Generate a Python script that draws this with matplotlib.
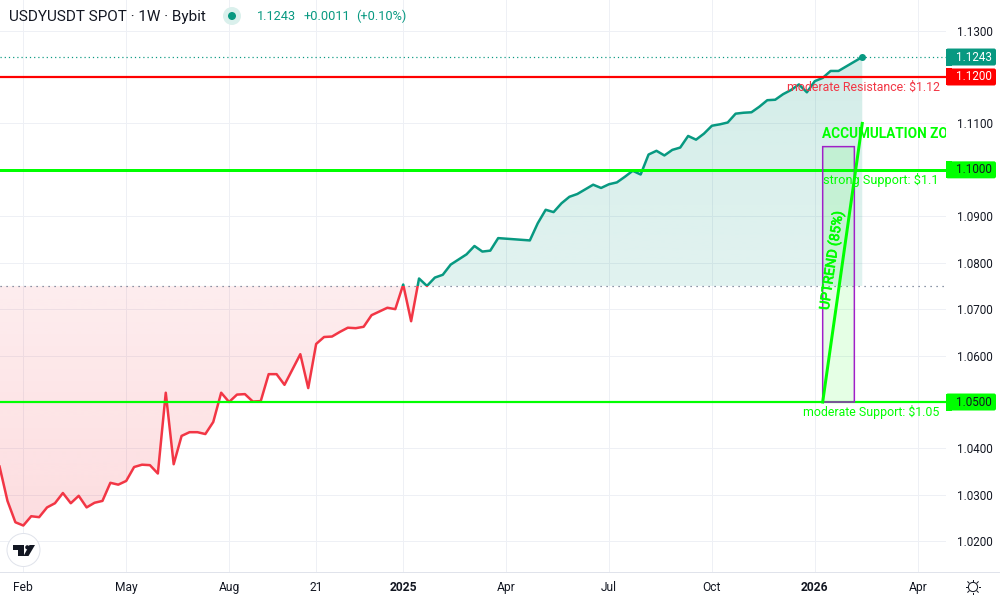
import numpy as np
import matplotlib
matplotlib.use("Agg")
import matplotlib.pyplot as plt
import matplotlib.patheffects as pe
from matplotlib.patches import Rectangle, Polygon, FancyBboxPatch, Circle
from matplotlib.lines import Line2D
from matplotlib.transforms import IdentityTransform

# ---------- data ----------
weeks = list(range(-3, 61)) + list(range(64, 107))
prices = [
    1.0361, 1.0287, 1.0241, 1.0234, 1.0254, 1.0252, 1.0273, 1.0282, 1.0304, 1.0282,
    1.0298, 1.0273, 1.0283, 1.0287, 1.0326, 1.0322, 1.0330, 1.0360, 1.0365, 1.0364,
    1.0346, 1.0520, 1.0366, 1.0427, 1.0435, 1.0435, 1.0431, 1.0457, 1.0520, 1.0500,
    1.0516, 1.0517, 1.0501, 1.0502,
    1.0560, 1.0560, 1.0537, 1.0570, 1.0603, 1.0530, 1.0625, 1.0640, 1.0641, 1.0651,
    1.0660, 1.0659, 1.0662, 1.0687, 1.0695, 1.0703, 1.0700, 1.0753, 1.0674, 1.0766,
    1.0750, 1.0768, 1.0774, 1.0796, 1.0807, 1.0818, 1.0836, 1.0824, 1.0826, 1.0853,
    1.0848, 1.0885, 1.0914, 1.0909, 1.0928, 1.0942, 1.0948, 1.0958, 1.0968, 1.0961,
    1.0969, 1.0973, 1.0985, 1.0998, 1.0990, 1.1033, 1.1041, 1.1031, 1.1043, 1.1048,
    1.1073, 1.1065, 1.1078, 1.1095, 1.1098, 1.1102, 1.1121, 1.1123, 1.1124, 1.1136,
    1.1150, 1.1151, 1.1163, 1.1172, 1.1184, 1.1167, 1.1191, 1.1198, 1.1213, 1.1213,
    1.1223, 1.1233, 1.1243,
]
baseline = 1.075
last_price = 1.1243
resistance = 1.12
support_strong = 1.10
support_moderate = 1.05
zone_weeks = (101, 105)
zone_prices = (1.05, 1.105)
trend_weeks = [101, 106]
trend_prices = [1.05, 1.11]
x_ticks = [0, 13, 26, 37, 48, 61, 74, 87, 100, 113]
x_labels = ["Feb", "May", "Aug", "21", "2025", "Apr", "Jul", "Oct", "2026", "Apr"]
y_ticks = [1.02, 1.03, 1.04, 1.05, 1.06, 1.07, 1.08, 1.09, 1.10, 1.11, 1.12, 1.13]
y_plain = [1.02, 1.03, 1.04, 1.06, 1.07, 1.08, 1.09, 1.11, 1.13]

# ---------- style ----------
FONT = "Roboto"
plt.rcParams["font.family"] = [FONT, "DejaVu Sans"]
RED = "#f23645"
TEAL = "#089981"
LIME = "#00ff00"
GRID = "#eef0f5"
INK = "#131722"
px = 72 / 100

fig = plt.figure(figsize=(10, 6), dpi=100, facecolor="white")
ax = fig.add_axes([0, 28 / 600, 946 / 1000, 572 / 600])
xlim = (-2.944, 116.58)
ylim = (1.01339, 1.13658)

w = np.array(weeks, float)
p = np.array(prices, float)

# gradient areas, clipped to the area between the series and the baseline
outline = np.column_stack([np.r_[w[0], w, w[-1]], np.r_[baseline, p, baseline]])


def gradient(colour, a_low, a_high, y0, y1):
    rgba = np.zeros((256, 1, 4))
    rgba[..., :3] = matplotlib.colors.to_rgb(colour)
    rgba[:, 0, 3] = np.linspace(a_low, a_high, 256)
    im = ax.imshow(rgba, extent=[xlim[0], xlim[1], y0, y1], origin="lower",
                   aspect="auto", zorder=1, interpolation="bilinear")
    im.set_clip_path(Polygon(outline, closed=True, transform=ax.transData))


gradient(TEAL, 0.12, 0.18, baseline, last_price)
gradient(RED, 0.17, 0.09, p.min(), baseline)

# grid
ax.set_axisbelow(True)
ax.grid(True, color=GRID, lw=1 * px, zorder=0)

# baseline and last-price dotted lines
ax.axhline(baseline, color="#5d6b85", lw=1.2 * px, ls=(0, (1, 4)), zorder=2)
ax.axhline(last_price, color=TEAL, lw=1.2 * px, ls=(0, (1, 2.5)), zorder=2)

# series: one line drawn twice, clipped at the baseline
above, = ax.plot(w, p, color=TEAL, lw=2.5 * px, zorder=3, solid_joinstyle="round")
below, = ax.plot(w, p, color=RED, lw=2.5 * px, zorder=3, solid_joinstyle="round")
above.set_clip_path(Rectangle((xlim[0], baseline), xlim[1] - xlim[0], ylim[1] - baseline,
                              transform=ax.transData))
below.set_clip_path(Rectangle((xlim[0], ylim[0]), xlim[1] - xlim[0], baseline - ylim[0],
                              transform=ax.transData))
ax.plot(w[-1], p[-1], "o", color=TEAL, ms=7 * px, mew=0, zorder=4)

# levels
ax.axhline(resistance, color="#ff0000", lw=2.2 * px, zorder=5)
ax.axhline(support_strong, color=LIME, lw=3 * px, zorder=5)
ax.axhline(support_moderate, color=LIME, lw=2.2 * px, zorder=5)

# accumulation zone + trend
ax.add_patch(Rectangle((zone_weeks[0], zone_prices[0]), zone_weeks[1] - zone_weeks[0],
                       zone_prices[1] - zone_prices[0], facecolor=LIME, alpha=0.1,
                       edgecolor="none", zorder=6))
ax.add_patch(Rectangle((zone_weeks[0], zone_prices[0]), zone_weeks[1] - zone_weeks[0],
                       zone_prices[1] - zone_prices[0], fill=False,
                       edgecolor="#a020c8", lw=1.5 * px, zorder=6.5, snap=False))
ax.plot(trend_weeks, trend_prices, color=LIME, lw=3 * px, zorder=7)

# annotations
ann = dict(va="center", zorder=8)
ax.text(115.8, 1.1178, "moderate Resistance: $1.12", color="#f23645", ha="right",
        fontsize=12.4 * px, **ann)
ax.text(101.0, 1.0978, "strong Support: $1.1", color=LIME, ha="left", fontsize=12.8 * px, **ann)
ax.text(115.8, 1.0478, "moderate Support: $1.05", color=LIME, ha="right",
        fontsize=12.4 * px, **ann)
ax.text(100.9, 1.1077, "ACCUMULATION ZO", color=LIME, ha="left", fontweight="bold",
        fontsize=13.6 * px, va="center", zorder=8, clip_on=True)
up = ax.text(102.1, 1.0804, "UPTREND (85%)", color=LIME, rotation=81.8, ha="center",
             va="center", rotation_mode="anchor", fontsize=13.8 * px, zorder=8)
up.set_path_effects([pe.withStroke(linewidth=0.5, foreground=LIME)])

# axes
ax.set_xlim(*xlim)
ax.set_ylim(*ylim)
ax.set_xticks(x_ticks)
ax.set_xticklabels(x_labels, fontsize=12 * px, color=INK)
for lab, txt in zip(ax.get_xticklabels(), x_labels):
    if txt.isdigit() and len(txt) == 4:
        lab.set_fontweight("bold")
ax.yaxis.tick_right()
ax.set_yticks(y_ticks)
ax.set_yticklabels([f"{v:.4f}" if v in y_plain else "" for v in y_ticks],
                   fontsize=11.6 * px, color=INK)
ax.tick_params(axis="x", length=0, pad=9 * px)
ax.tick_params(axis="y", length=0, pad=11 * px)
for s in ("top", "left", "right"):
    ax.spines[s].set_visible(False)
ax.spines["bottom"].set_color("#e0e3eb")
ax.spines["bottom"].set_linewidth(1 * px)
fig.add_artist(Line2D([946 / 1000, 1], [28 / 600, 28 / 600], color="#e0e3eb", lw=1 * px))

fig.canvas.draw()


# price tags, in pixels
def tag(value, face, ink):
    yc = ax.transData.transform((0, value))[1]
    fig.add_artist(Rectangle((946, yc - 8.5), 6, 17, facecolor=face, edgecolor="none",
                             transform=IdentityTransform()))
    fig.add_artist(FancyBboxPatch((948, yc - 6.5), 46, 13, boxstyle="round,pad=2,rounding_size=2",
                                  facecolor=face, edgecolor="none", transform=IdentityTransform()))
    fig.text(973.5 / 1000, yc / 600, f"{value:.4f}", color=ink, fontsize=11.6 * px,
             ha="center", va="center")


tag(last_price, TEAL, "white")
tag(resistance, "#ff0000", "white")
tag(support_strong, LIME, INK)
tag(support_moderate, LIME, INK)

# header
fig.text(9 / 1000, 1 - 16.5 / 600, "USDYUSDT SPOT · 1W · Bybit", color=INK,
         fontsize=15.3 * px, va="center", ha="left")
fig.add_artist(Circle((232, 600 - 16), 9, facecolor="#daf0ec", edgecolor="none",
                      transform=IdentityTransform()))
fig.add_artist(Circle((232, 600 - 16), 4, facecolor=TEAL, edgecolor="none",
                      transform=IdentityTransform()))
fig.text(257 / 1000, 1 - 16.5 / 600, "1.1243", color=TEAL, fontsize=12.8 * px, va="center")
fig.text(304 / 1000, 1 - 16.5 / 600, "+0.0011", color=TEAL, fontsize=12.8 * px, va="center")
fig.text(356 / 1000, 1 - 16.5 / 600, "(+0.10%)", color=TEAL, fontsize=12.8 * px, va="center")

# logo
fig.add_artist(Circle((23.5, 600 - 550), 16.5, facecolor="white", edgecolor="#e0e3eb",
                      lw=1 * px, transform=IdentityTransform()))
logo = [
    [(13, 545), (24, 545), (24, 556), (18, 556), (18, 550), (13, 550)],
    [(29.5, 545), (35, 545), (28.5, 556), (23.5, 556)],
]
for shape in logo:
    fig.add_artist(Polygon([(a, 600 - b) for a, b in shape], closed=True, facecolor=INK,
                           edgecolor="none", transform=IdentityTransform()))
fig.add_artist(Circle((27.3, 600 - 547.3), 2.1, facecolor=INK, edgecolor="none",
                      transform=IdentityTransform()))

# settings (sun) icon
sx, sy = 973, 600 - 587
fig.add_artist(Circle((sx, sy), 4.6, facecolor="white", edgecolor=INK, lw=1 * px,
                      transform=IdentityTransform()))
for ang in np.arange(0, 360, 45):
    c, s = np.cos(np.radians(ang)), np.sin(np.radians(ang))
    fig.add_artist(Line2D([sx + 5.6 * c, sx + 7.4 * c], [sy + 5.6 * s, sy + 7.4 * s],
                          color=INK, lw=1 * px, transform=IdentityTransform()))

fig.savefig("out.png", dpi=100)
